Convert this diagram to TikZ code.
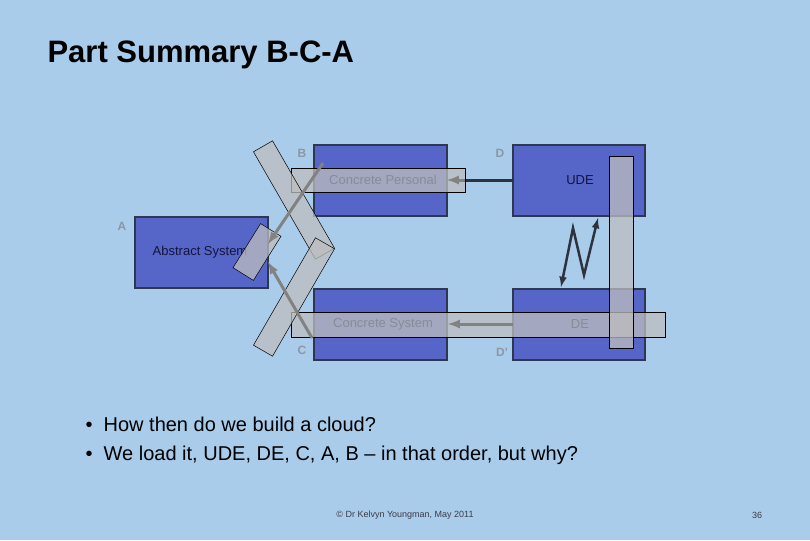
\documentclass[tikz,border=0pt]{standalone}
\usepackage{fontspec}
\setmainfont{Liberation Sans}
\definecolor{bgc}{RGB}{169,204,235}
\definecolor{bxd}{RGB}{45,55,80}
\definecolor{bxf}{RGB}{85,102,200}
\definecolor{labc}{RGB}{140,150,165}
\definecolor{ovf}{RGB}{190,190,190}
\definecolor{garc}{RGB}{130,130,130}
\definecolor{dkc}{RGB}{45,50,60}
\definecolor{txd}{RGB}{20,20,60}
\definecolor{txg}{RGB}{135,140,150}
\definecolor{ftc}{RGB}{60,60,70}
\begin{document}
\begin{tikzpicture}[x=1pt,y=-1pt,
 bx/.style={draw=bxd,line width=2.5pt,fill=bxf},
 lab/.style={text=labc,font=\fontsize{12}{12}\selectfont\bfseries},
 ov/.style={draw=black,line width=0.5pt,fill=ovf,fill opacity=0.75},
 garr/.style={draw=garc,line width=3pt,-latex},
 txt/.style={font=\fontsize{13}{13}\selectfont}]
\fill[bgc] (0,0) rectangle (810,540);
\useasboundingbox (0,0) rectangle (810,540);
\node[anchor=west,font=\fontsize{31}{31}\selectfont\bfseries] (title) at (44,55) {Part Summary B-C-A};
\draw[bx] (314,145) rectangle (447,216);
\draw[bx] (513,145) rectangle (645,216);
\draw[bx] (135,217) rectangle (268,288);
\draw[bx] (314,289) rectangle (447,360);
\draw[bx] (513,289) rectangle (645,360);
\node[lab] (lB) at (302,153) {B};
\node[lab] (lD) at (500,153) {D};
\node[lab] (lA) at (122,226) {A};
\node[lab] (lC) at (302,350) {C};
\node[lab] (lDp) at (502,352) {D’};
\node[txt,text=txd] (ude) at (580,180) {UDE};
\node[txt,text=txd] (abs) at (200,252) {Abstract System};
\coordinate (z1) at (561,287); \coordinate (z2) at (573,228); \coordinate (z3) at (584,275); \coordinate (z4) at (598,218);
\draw[line width=2.5pt,dkc,latex-latex] (z1) -- (z2) -- (z3) -- (z4);
\coordinate (d1) at (513,180); \coordinate (d2) at (465,180);
\draw[line width=3pt,dkc] (d1) -- (d2);
\draw[ov] (291,168) rectangle (465,192);
\draw[ov] (291,312) rectangle (665,337);
\draw[ov] (609,156) rectangle (633,348);
\draw[ov,rotate around={-60:(294,200)}] (232,189) rectangle (356,211);
\draw[ov,rotate around={60:(294,297)}] (232,286) rectangle (356,308);
\draw[ov,rotate around={-32:(257,252)}] (245,226) rectangle (269,278);
\node[txt,text=txg] (cp) at (383,180) {Concrete Personal};
\node[txt,text=txg] (cs) at (383,324) {Concrete System};
\node[txt,text=txg] (de) at (580,324) {DE};
\coordinate (g1) at (465,180); \coordinate (g2) at (447,180);
\draw[garr] (g1) -- (g2);
\coordinate (g3) at (513,324); \coordinate (g4) at (448,324);
\draw[garr] (g3) -- (g4);
\coordinate (g5) at (323,163); \coordinate (g6) at (268,244);
\draw[garr] (g5) -- (g6);
\coordinate (g7) at (312,338); \coordinate (g8) at (268,262);
\draw[garr] (g7) -- (g8);
\node[anchor=west,font=\fontsize{20}{20}\selectfont,align=left] (bul) at (82,441) {\textbullet\ \ How then do we build a cloud?\\[9pt]\textbullet\ \ We load it, UDE, DE, C, A, B -- in that order, but why?};
\node[font=\fontsize{9}{9}\selectfont,text=ftc] (foot) at (405,515) {© Dr Kelvyn Youngman, May 2011};
\node[font=\fontsize{9}{9}\selectfont,text=ftc] (pg) at (757,515) {36};
\end{tikzpicture}
\end{document}
